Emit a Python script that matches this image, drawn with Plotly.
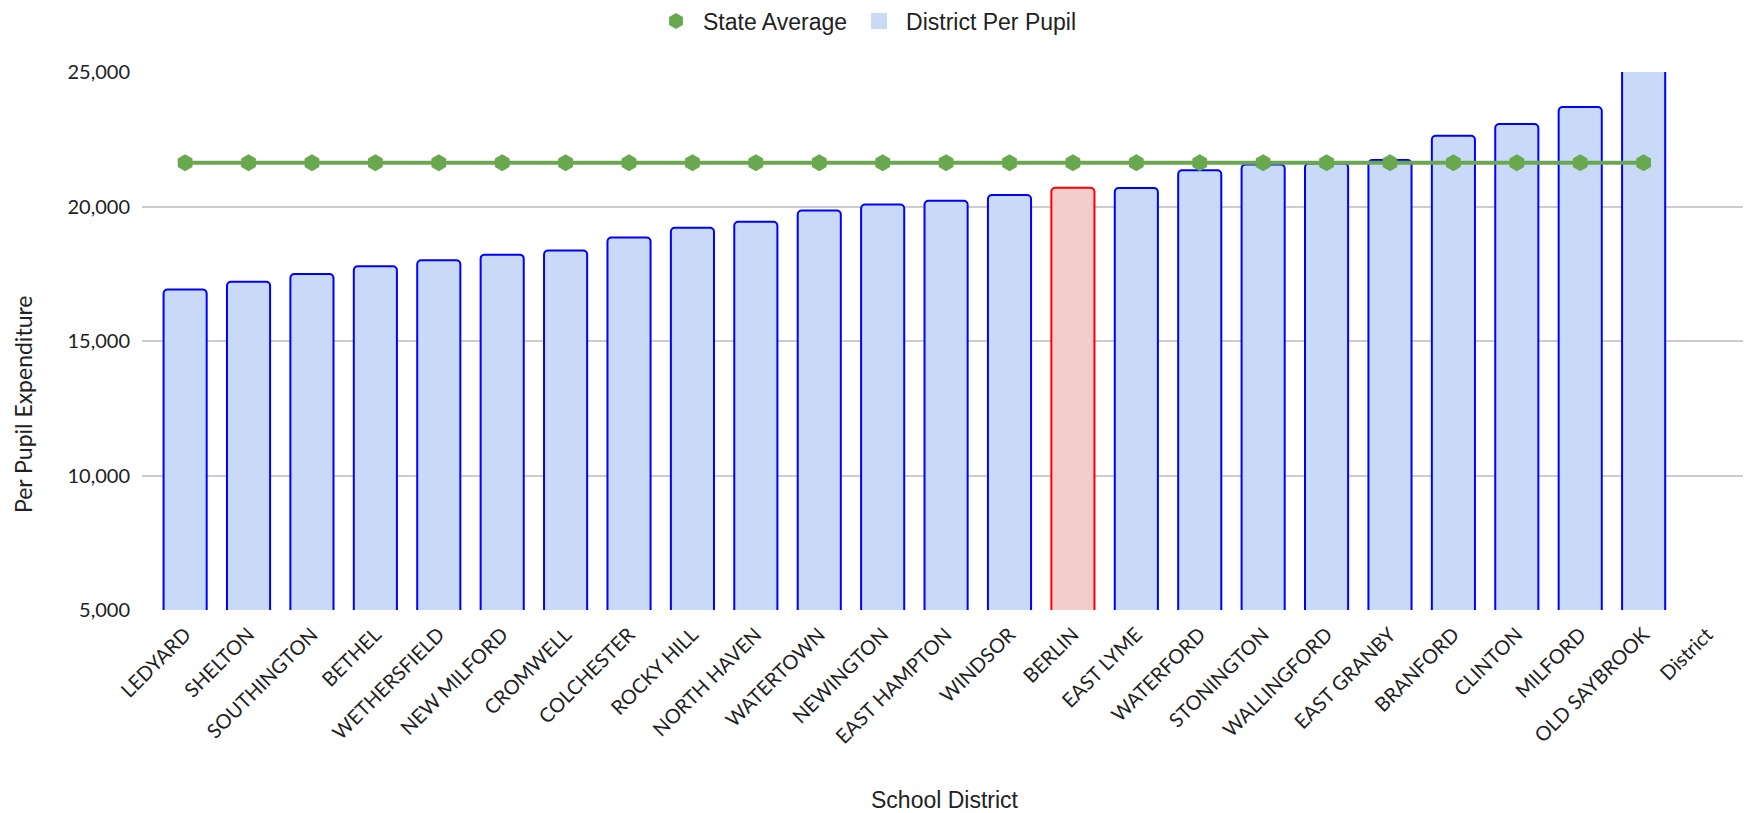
import plotly.graph_objects as go

districts = ["LEDYARD", "SHELTON", "SOUTHINGTON", "BETHEL", "WETHERSFIELD", "NEW MILFORD",
             "CROMWELL", "COLCHESTER", "ROCKY HILL", "NORTH HAVEN", "WATERTOWN", "NEWINGTON",
             "EAST HAMPTON", "WINDSOR", "BERLIN", "EAST LYME", "WATERFORD", "STONINGTON",
             "WALLINGFORD", "EAST GRANBY", "BRANFORD", "CLINTON", "MILFORD", "OLD SAYBROOK",
             "District"]
per_pupil = [16910, 17200, 17490, 17780, 18000, 18210, 18360, 18850, 19210, 19430,
             19850, 20070, 20210, 20430, 20700, 20690, 21350, 21560, 21600, 21730,
             22630, 23070, 23700, 26000, None]
state_avg = [21630, 21630, 21630, 21630, 21630, 21630, 21630, 21630, 21630, 21630,
             21630, 21630, 21630, 21630, 21630, 21630, 21630, 21630, 21630, 21630,
             21630, 21630, 21630, 21630, None]
highlight = "BERLIN"
y_ticks = [5000, 10000, 15000, 20000, 25000]

BLUE_FILL = "#c9daf8"
BLUE_LINE = "#0000ff"
PINK_FILL = "#f4cccc"
RED_LINE = "#ff0000"
GREEN = "#6aa84f"

fills = [PINK_FILL if d == highlight else BLUE_FILL for d in districts]
lines = [RED_LINE if d == highlight else BLUE_LINE for d in districts]

# figure is offset 8px by the page's body margin
W, H = 1743, 805
ML, MR, MT, MB = 134, 4, 64, 203

fig = go.Figure()
fig.add_trace(go.Bar(
    x=districts, y=per_pupil, name="District Per Pupil", showlegend=False,
    width=0.68,
    marker=dict(color=fills, line=dict(color=lines, width=2), cornerradius=4),
))
fig.add_trace(go.Scatter(
    x=districts, y=state_avg, name="State Average", showlegend=False,
    mode="lines+markers",
    line=dict(color=GREEN, width=4),
    marker=dict(symbol="hexagon", size=17, color=GREEN),
))
# legend-only entries
fig.add_trace(go.Scatter(
    x=[None], y=[None], name="State Average", mode="markers",
    marker=dict(symbol="hexagon", size=20, color=GREEN),
))
fig.add_trace(go.Scatter(
    x=[None], y=[None], name="District Per Pupil", mode="markers",
    marker=dict(symbol="square", size=20, color=BLUE_FILL),
))

tick_font = dict(family="Lato, 'Open Sans', sans-serif", size=20, color="#222222")
ytitle_font = dict(family="Lato, 'Open Sans', sans-serif", size=23, color="#222222")
label_font = dict(family="'Liberation Sans', Arial, sans-serif", size=23, color="#222222")

plot_w = W - ML - MR
plot_h = H - MT - MB

fig.update_layout(
    width=W, height=H,
    margin=dict(l=ML, r=MR, t=MT, b=MB, autoexpand=False),
    plot_bgcolor="white", paper_bgcolor="white",
    legend=dict(orientation="h", x=0.5 - 14 / W, xref="container", xanchor="center",
                y=1 - 13 / H, yref="container", yanchor="middle",
                font=label_font, itemwidth=44, itemsizing="trace",
                bgcolor="rgba(0,0,0,0)"),
    xaxis=dict(range=[-0.68, 24.63], tickangle=-45, tickfont=tick_font,
               showgrid=False, showline=False, zeroline=False, ticks="",
               automargin=False, ticklabelstandoff=8),
    yaxis=dict(range=[5000, 25000], tickvals=y_ticks, tickformat=",",
               tickfont=tick_font, showgrid=True, gridcolor="#cccccc", gridwidth=1.5,
               zeroline=False, showline=False, ticks="", automargin=False,
               ticklabelstandoff=11),
    annotations=[
        dict(text="School District", x=0.5, xref="paper",
             y=(H - MB - 792) / plot_h, yref="paper",
             showarrow=False, font=label_font, xanchor="center", yanchor="middle"),
        dict(text="Per Pupil Expenditure", x=(15 - ML) / plot_w, xref="paper",
             y=(H - MB - 396) / plot_h, yref="paper",
             showarrow=False, font=ytitle_font, textangle=-90,
             xanchor="center", yanchor="middle"),
    ],
)

fig.write_html("out.html")
